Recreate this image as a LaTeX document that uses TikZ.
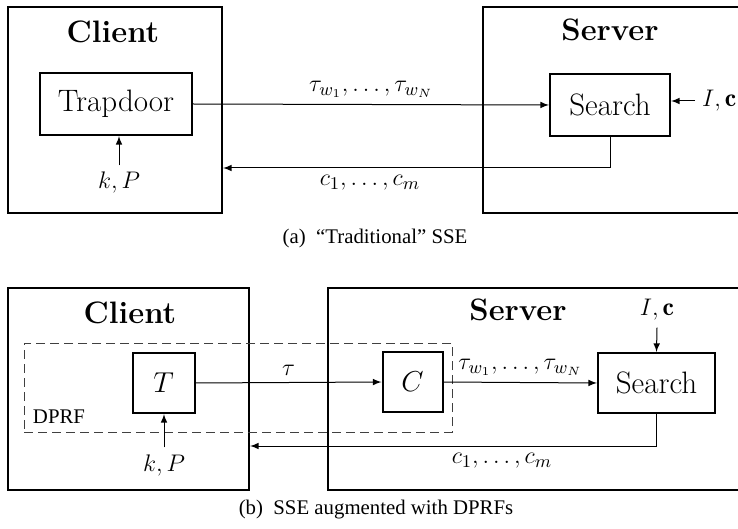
\documentclass[tikz,border=0pt]{standalone}
\usepackage{fontspec}
\newfontfamily\capfont{Liberation Serif}
\tikzstyle{party}=[draw, line width=1pt, inner sep=0pt]
\tikzstyle{box}=[draw, line width=1pt, font=\fontsize{15.5pt}{18pt}\selectfont, inner sep=0pt]
\tikzstyle{partytitle}=[font=\fontsize{15.5pt}{18pt}\selectfont\bfseries]
\tikzstyle{lbl}=[font=\fontsize{12.8pt}{15pt}\selectfont]
\tikzstyle{arr}=[->, >=latex, line width=0.5pt]
\tikzstyle{dprfbox}=[draw=black!75, dash pattern=on 4.5pt off 2.5pt, line width=0.5pt, inner sep=0pt]
\tikzstyle{captext}=[font=\capfont\fontsize{10.4pt}{12pt}\selectfont]

\begin{document}
\begin{tikzpicture}[x=0.5pt,y=-0.5pt]
	\useasboundingbox (0,0) rectangle (738,529);
	\clip (0,0) rectangle (738,529);
	% (a) traditional
	\node[party, minimum width=107pt, minimum height=103pt] (client) at (115,110) {};
	\node[party, minimum width=131pt, minimum height=103pt] (server) at (614,110) {};
	\node[partytitle] at (113,32) {Client};
	\node[partytitle] at (610,30) {Server};
	\node[box, minimum width=76pt, minimum height=31pt] (trapdoor) at (116,104) {Trapdoor};
	\node[box, minimum width=60pt, minimum height=31pt] (search) at (610,105) {Search};
	\node[lbl] (kp) at (119,183) {$k,P$};
	\node[lbl, anchor=west] (ic) at (695,101) {$I,\mathbf{c}$};
	\coordinate (back) at (400,168);
	\draw[arr] (kp.north) -- (kp.north |- trapdoor.south);
	\draw[arr] (ic.west) -- (search.east |- ic.west);
	\draw[arr] (trapdoor.east) -- node[lbl, above] {$\tau_{w_1},\ldots,\tau_{w_N}$} (search.west);
	\draw[arr] (search.south) |- node[lbl, below, pos=0.81] {$c_1,\ldots,c_m$} (client.east |- back);
	\node[captext] at (375,238) {(a)\enspace “Traditional” SSE};
	% (b) with DPRFs
	\node[party, minimum width=120.5pt, minimum height=101pt] (clientb) at (128.5,389) {};
	\node[party, minimum width=208.5pt, minimum height=101pt] (serverb) at (536.5,389) {};
	\node[partytitle] at (130,313) {Client};
	\node[partytitle] at (518,310) {Server};
	\node[dprfbox, minimum width=214pt, minimum height=44.5pt] (dprf) at (238,387.5) {};
	\node[captext] at (59,417) {DPRF};
	\node[box, minimum width=31pt, minimum height=30pt] (T) at (163.5,383) {$T$};
	\node[box, minimum width=30pt, minimum height=30pt] (C) at (412.5,382) {$C$};
	\node[box, minimum width=58.5pt, minimum height=30pt] (searchb) at (656.5,383) {Search};
	\node[lbl] (kpb) at (164,465) {$k,P$};
	\node[lbl] (icb) at (657,310) {$I,\mathbf{c}$};
	\coordinate (backb) at (400,446);
	\draw[arr] (kpb.north) -- (kpb.north |- T.south);
	\draw[arr] (icb.south) -- (searchb.north);
	\draw[arr] (T.east) -- node[lbl, above] {$\tau$} (C.west);
	\draw[arr] (C.east) -- node[lbl, above] {$\tau_{w_1},\ldots,\tau_{w_N}$} (searchb.west);
	\draw[arr] (searchb.south) |- node[lbl, below, pos=0.69] {$c_1,\ldots,c_m$} (clientb.east |- backb);
	\node[captext] at (376,510) {(b)\enspace SSE augmented with DPRFs};
\end{tikzpicture}
\end{document}
